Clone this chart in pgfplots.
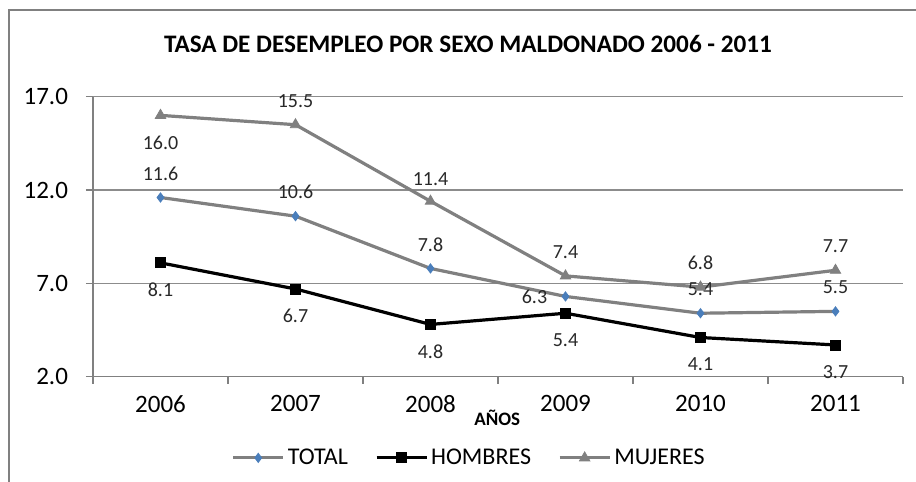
\documentclass[border=0pt]{standalone}
\usepackage{pgfplots}
\pgfplotsset{compat=1.18}
\usepackage{pgfplotstable}
\usepackage{fontspec}
\setmainfont{Carlito}
\definecolor{exblue}{RGB}{74,126,187}
\definecolor{exgray}{RGB}{128,128,128}
\definecolor{gridgray}{RGB}{140,140,140}
\definecolor{labtext}{RGB}{40,40,40}

% x: category 1..6, dx/dy: label offset in pt
\pgfplotstableread{
x y dx dy
1 11.6 0 12
2 10.6 0 12
3 7.8 0 12
4 6.3 -15.5 0
5 5.4 0 12
6 5.5 0 12
}\total
\pgfplotstableread{
x y dx dy
1 8.1 0 -13.5
2 6.7 0 -13.5
3 4.8 0 -13.5
4 5.4 0 -13.5
5 4.1 0 -13.5
6 3.7 0 -13.5
}\hombres
\pgfplotstableread{
x y dx dy
1 16.0 0 -13.5
2 15.5 0 12
3 11.4 0 11
4 7.4 0 12
5 6.8 0 12
6 7.7 0 12
}\mujeres

\begin{document}
\begin{tikzpicture}
\useasboundingbox (0,0) rectangle (458pt,241pt);
\draw[exgray, line width=1pt] (4.5pt,0) -- (4.5pt,236pt) -- (458pt,236pt);
\node[font=\fontsize{12.6}{15}\selectfont\bfseries] at (234pt,219pt)
  {TASA DE DESEMPLEO POR SEXO MALDONADO 2006 - 2011};
\begin{axis}[
    at={(46.5pt,52.65pt)}, anchor=south west,
    scale only axis, width=405pt, height=140pt,
    clip=false,
    xmin=0.5, xmax=6.5, ymin=2, ymax=17,
    axis x line*=bottom, axis y line*=left,
    axis line style={exgray, line width=0.6pt},
    tick style={exgray, line width=0.6pt},
    tick align=outside, major tick length=3.5pt,
    xtick={0.5,1.5,...,6.5}, xticklabels={},
    extra x ticks={1,2,3,4,5,6},
    extra x tick labels={2006,2007,2008,2009,2010,2011},
    extra x tick style={major tick length=0pt, xmajorgrids=false,
        xticklabel style={yshift=-6pt}},
    ytick={2,7,12,17},
    ymajorgrids, grid style={gridgray, line width=0.6pt},
    yticklabel style={xshift=-5.5pt},
    ticklabel style={font=\fontsize{12.5}{15}\selectfont, text=black},
    /pgf/number format/assume math mode=true,
    y tick label style={/pgf/number format/.cd, fixed, fixed zerofill, precision=1},
    xlabel={AÑOS},
    xlabel style={at={(axis description cs:0.499,-0.1475)}, anchor=center,
        font=\fontsize{9.5}{11}\selectfont\bfseries},
    nodes near coords={\pgfmathprintnumber[fixed,fixed zerofill,precision=1,assume math mode=true]{\pgfplotspointmeta}},
    visualization depends on={\thisrow{dx}\as\dx},
    visualization depends on={\thisrow{dy}\as\dy},
    every node near coord/.append style={anchor=center, xshift=\dx pt, yshift=\dy pt,
        font=\fontsize{10}{12}\selectfont, text=labtext},
    legend columns=-1,
    legend style={at={(0.465,-0.29)}, anchor=center, draw=none, fill=none,
        font=\fontsize{12}{14}\selectfont, nodes={inner sep=1.5pt},
        /tikz/every even column/.append style={column sep=12pt}},
    legend image code/.code={\draw[mark repeat=2,mark phase=2,#1]
        plot coordinates {(0pt,0pt) (12.5pt,0pt) (25pt,0pt)};},
]
\addplot[exgray, line width=1.6pt, mark=diamond*, mark size=2.3pt,
    mark options={fill=exblue, draw=exblue, line width=0.4pt}] table[x=x,y=y] {\total};
\addplot[black, line width=1.6pt, mark=square*, mark size=2.5pt,
    mark options={fill=black, line width=0.4pt}] table[x=x,y=y] {\hombres};
\addplot[exgray, line width=1.6pt, mark=triangle*, mark size=3pt,
    mark options={fill=exgray, line width=0.4pt}] table[x=x,y=y] {\mujeres};
\legend{TOTAL, HOMBRES, MUJERES}
\end{axis}
\end{tikzpicture}
\end{document}
